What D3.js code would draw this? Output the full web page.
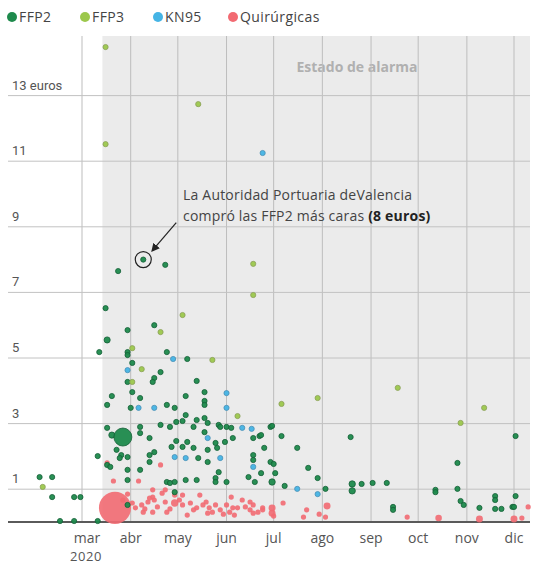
<!DOCTYPE html>
<html><head><meta charset="utf-8">
<script src="https://cdn.jsdelivr.net/npm/d3@7"></script>
<style>body{margin:0;background:#fff;} svg{display:block;font-family:"Open Sans",Roboto,sans-serif;}</style>
</head><body>
<script>
// ---- data: [fecha, precio (euros/unidad), unidades relativas] ----
const seriesNames = ["FFP2","FFP3","KN95","Quirúrgicas"];
const monthTicks = ["2020-03-01","2020-04-01","2020-05-01","2020-06-01","2020-07-01","2020-08-01","2020-09-01","2020-10-01","2020-11-01","2020-12-01"];
const monthLabels = ["mar","abr","may","jun","jul","ago","sep","oct","nov","dic"];
const yearLabel = "2020";
const yTicks = [1,3,5,7,9,11,13];
const alarmStart = "2020-03-14";
const highlight = ["2020-04-09", 8.0];

const ffp2 = [
["2020-02-03",1.37],["2020-02-11",1.37],["2020-02-11",0.76],["2020-02-25",0.76],["2020-02-29",0.76],
["2020-02-16",0.03],["2020-02-25",0.03],["2020-03-11",0.03],["2020-03-11",2.01],
["2020-04-09",8.0],["2020-03-24",7.65],["2020-04-23",7.84],["2020-03-16",6.52],["2020-03-30",5.85],
["2020-04-16",6.0],["2020-03-17",5.55,1.4],["2020-03-12",5.18],["2020-03-30",5.18],["2020-03-30",5.09],
["2020-04-24",5.18],["2020-05-07",4.97],["2020-04-02",4.85],["2020-04-20",4.57],["2020-04-16",4.39],
["2020-04-15",4.27],["2020-03-30",4.27],["2020-05-13",4.30],["2020-04-02",3.96],["2020-05-18",3.96],
["2020-03-20",3.84],["2020-04-07",3.78],["2020-05-06",3.84],["2020-05-18",3.69],["2020-05-18",3.57],
["2020-04-24",3.57],["2020-03-17",3.57],["2020-04-01",3.48],["2020-04-29",3.48],["2020-05-06",3.26],
["2020-03-17",2.87],["2020-03-20",2.65,1.4],["2020-03-27",2.59,12],["2020-04-07",2.90],["2020-04-07",2.71],
["2020-04-13",2.56],["2020-04-20",2.96],["2020-04-26",2.90],["2020-04-30",3.05],["2020-05-04",3.08],
["2020-05-13",3.11],["2020-05-18",3.17],["2020-05-20",3.02],["2020-05-18",2.74],["2020-05-27",2.96],
["2020-06-01",2.90],["2020-06-05",2.56],["2020-05-07",2.44],["2020-04-30",2.47],["2020-05-04",2.29],
["2020-04-27",2.29],["2020-05-11",2.26],["2020-05-25",2.41],["2020-05-26",2.26],["2020-05-31",2.44],
["2020-05-20",2.20],["2020-03-23",2.20],["2020-03-26",2.04],["2020-03-25",1.95],["2020-03-30",1.98],
["2020-04-13",2.04],["2020-04-16",2.13],["2020-05-14",1.95],["2020-05-20",1.83],["2020-04-13",1.83],
["2020-03-17",1.74],["2020-03-19",1.68],["2020-03-30",1.59],["2020-04-07",1.59],["2020-05-27",1.52],
["2020-04-24",1.22],["2020-04-26",1.19],["2020-04-29",1.22],["2020-05-06",1.28],["2020-05-13",1.28],
["2020-05-25",1.34],["2020-05-25",1.22],["2020-06-01",1.22],["2020-03-30",1.28],["2020-04-29",0.91],
["2020-03-30",0.52],["2020-06-29",2.90],["2020-06-30",2.93],["2020-06-18",2.56],["2020-06-22",2.62],
["2020-06-04",2.87],["2020-05-11",2.90],["2020-05-28",2.90],["2020-07-06",2.62],["2020-08-19",2.59],
["2020-07-16",2.26],["2020-06-25",2.26],["2020-06-23",2.65],["2020-06-18",2.04],["2020-06-18",1.89],
["2020-06-29",1.83],["2020-07-01",1.77],["2020-07-23",1.65],["2020-06-23",1.49],["2020-07-02",1.49],
["2020-06-15",1.37],["2020-06-19",1.22],["2020-06-30",1.22,1.5],["2020-07-29",1.34],["2020-07-08",1.10],
["2020-08-03",1.01],["2020-08-20",1.16,1.5],["2020-08-20",0.95,1.5],["2020-08-26",1.16],["2020-09-02",1.19],
["2020-09-11",1.19],["2020-09-15",0.46],["2020-09-15",0.37],["2020-10-12",0.98],["2020-10-12",0.91],
["2020-10-26",1.80],["2020-10-26",1.01],["2020-10-28",0.64],["2020-10-30",0.52],["2020-11-09",0.43],
["2020-11-19",0.79],["2020-11-19",0.67],["2020-11-19",0.40],["2020-11-23",0.40],["2020-11-30",0.46],
["2020-12-01",0.46],["2020-12-02",0.79],["2020-12-02",2.62]
];
const ffp3 = [
["2020-03-16",14.48],["2020-03-16",11.52],["2020-05-14",12.74],["2020-06-18",7.87],["2020-06-18",6.92],
["2020-05-04",6.31],["2020-04-20",5.79],["2020-04-02",5.30],["2020-05-23",4.94],["2020-04-08",4.66],
["2020-04-02",4.27],["2020-06-08",3.23],["2020-07-06",3.60],["2020-07-29",3.78],["2020-09-18",4.09],
["2020-11-12",3.48],["2020-10-28",3.02],["2020-02-05",1.07]
];
const kn95 = [
["2020-06-24",11.25],["2020-04-28",4.97],["2020-03-30",4.63],["2020-06-01",3.93],["2020-06-01",3.48],
["2020-06-11",2.87],["2020-06-17",2.84],["2020-05-20",2.56],["2020-04-29",1.98],["2020-05-06",1.95],
["2020-05-28",1.95],["2020-06-18",1.68],["2020-07-16",1.01],["2020-07-29",0.85],["2020-04-06",3.48],
["2020-04-16",3.48]
];
const quirurgicas = [
["2020-03-22",0.43,38],["2020-03-21",1.25],["2020-03-17",1.80],["2020-04-06",1.25],["2020-04-20",1.74],
["2020-04-15",0.98],["2020-04-21",0.88],["2020-04-15",0.76],["2020-04-16",0.67],["2020-04-12",0.61],
["2020-04-23",0.61],["2020-04-29",0.58,2],["2020-05-04",0.52],["2020-05-09",0.58],["2020-05-13",0.43],
["2020-05-17",0.52],["2020-05-21",0.43],["2020-05-25",0.52],["2020-05-28",0.37],["2020-06-01",0.52],
["2020-06-05",0.43],["2020-04-08",0.52],["2020-04-09",0.30],["2020-04-04",0.43],["2020-04-15",0.30],
["2020-04-24",0.30],["2020-05-07",0.21],["2020-05-20",0.27],["2020-04-29",0.82],["2020-05-04",0.82],
["2020-05-15",0.82],["2020-04-23",0.98],["2020-04-13",0.73],["2020-03-27",0.67],["2020-03-30",0.85],
["2020-06-04",0.76],["2020-06-11",0.67],["2020-06-16",0.61],["2020-06-18",0.52],["2020-06-16",0.37],
["2020-06-08",0.43],["2020-06-24",0.43],["2020-06-30",0.43,1.8],["2020-06-30",0.27,1.8],["2020-07-01",0.18],
["2020-07-07",0.58],["2020-07-22",0.37],["2020-07-20",0.15],["2020-08-04",0.49,1.8],["2020-07-30",0.24],
["2020-08-03",0.15],["2020-06-06",0.21],["2020-06-18",0.27],["2020-09-24",0.15],["2020-10-14",0.12,1.6],
["2020-11-09",0.09,1.8],["2020-12-01",0.09,1.8],["2020-12-06",0.12],["2020-12-10",0.46],["2020-06-24",0.37],
["2020-04-02",0.58],["2020-04-10",0.40],["2020-04-18",0.46],["2020-04-26",0.40],["2020-05-02",0.67],
["2020-05-11",0.37],["2020-05-19",0.61],["2020-05-23",0.30],["2020-05-30",0.24],["2020-06-03",0.30],
["2020-06-13",0.46],["2020-06-21",0.30]
];

// ---- chart ----
const W = 542, H = 565;
const plotLeft = 8, plotRight = 530, plotTop = 36, plotBase = 522;
const parse = d3.utcParse("%Y-%m-%d");
const x = d3.scaleUtc().domain([parse("2020-03-01"), parse("2020-12-01")]).range([82, 514]);
const y = d3.scaleLinear().domain([0, 13]).range([plotBase, 95.6]);
const r = d3.scaleSqrt().domain([0, 1]).range([0, 2.6]);

const colors = {"FFP2":"#1e8a4c","FFP3":"#9cc84c","KN95":"#45b4e5","Quirúrgicas":"#f26a72"};
const strokes = {"FFP2":"#155f37","FFP3":"#8c9f5a","KN95":"#4a8fb5","Quirúrgicas":"#f26a72"};

const svg = d3.select("body").append("svg").attr("width", W).attr("height", H);

// shading
svg.append("rect").attr("x", x(parse(alarmStart))).attr("y", plotTop)
  .attr("width", plotRight - x(parse(alarmStart))).attr("height", plotBase - plotTop).attr("fill", "#ebebeb");
svg.append("text").attr("x", 357).attr("y", 72).attr("text-anchor","middle")
  .attr("fill","#b0b0b0").attr("font-size",14).attr("font-weight",700).text("Estado de alarma");

// grid
svg.append("g").selectAll("line").data(monthTicks).join("line")
  .attr("x1", d => x(parse(d))).attr("x2", d => x(parse(d)))
  .attr("y1", plotTop).attr("y2", plotBase).attr("stroke", "#bdbdbd").attr("stroke-width", 1);
svg.append("g").selectAll("line").data(yTicks).join("line")
  .attr("x1", plotLeft).attr("x2", plotRight).attr("y1", d => y(d)).attr("y2", d => y(d))
  .attr("stroke", "#c2c2c2").attr("stroke-width", 1);
svg.append("g").selectAll("text").data(yTicks).join("text")
  .attr("x", 12).attr("y", d => y(d) - 6).attr("fill", "#555").attr("font-size", 13)
  .attr("font-family", "Roboto, sans-serif")
  .text(d => d === 13 ? "13 euros" : d);

// baseline
svg.append("line").attr("x1", plotLeft).attr("x2", plotRight).attr("y1", plotBase).attr("y2", plotBase)
  .attr("stroke", "#5a5a5a").attr("stroke-width", 2);

// month labels
svg.append("g").selectAll("text").data(monthTicks).join("text")
  .attr("x", (d,i) => x(parse(d)) + (i === 0 ? 5 : 0)).attr("y", 543).attr("text-anchor","middle")
  .attr("fill","#555").attr("font-size",14).text((d,i) => monthLabels[i]);
svg.append("text").attr("x", x(parse(monthTicks[0])) + 4).attr("y", 561).attr("text-anchor","middle")
  .attr("fill","#555").attr("font-size",13).attr("letter-spacing",0.6).text(yearLabel);

// points
const all = [["Quirúrgicas", quirurgicas], ["FFP2", ffp2], ["FFP3", ffp3], ["KN95", kn95]];
all.forEach(([name, arr]) => {
  svg.append("g").selectAll("circle").data(arr).join("circle")
    .attr("cx", d => x(parse(d[0]))).attr("cy", d => y(d[1]))
    .attr("r", d => r(d[2] || 1))
    .attr("fill", colors[name])
    .attr("fill-opacity", name === "Quirúrgicas" ? 0.9 : 0.95)
    .attr("stroke", strokes[name]).attr("stroke-width", name === "Quirúrgicas" ? 0 : 0.8);
});

// annotation
const hx = x(parse(highlight[0])), hy = y(highlight[1]);
svg.append("circle").attr("cx", hx).attr("cy", hy).attr("r", 8)
  .attr("fill","none").attr("stroke","#222").attr("stroke-width",1.2);
svg.append("defs").append("marker").attr("id","ah").attr("viewBox","0 0 10 10")
  .attr("refX",8).attr("refY",5).attr("markerWidth",7).attr("markerHeight",7).attr("orient","auto")
  .append("path").attr("d","M0,0L10,5L0,10z").attr("fill","#222");
svg.append("line").attr("x1", hx + 33).attr("y1", hy - 37).attr("x2", hx + 9).attr("y2", hy - 9)
  .attr("stroke","#222").attr("stroke-width",1.2).attr("marker-end","url(#ah)");
const ann = svg.append("text").attr("fill","#444").attr("font-size",14).attr("letter-spacing",0.2);
ann.append("tspan").attr("x",183).attr("y",200).text("La Autoridad Portuaria deValencia");
ann.append("tspan").attr("x",183).attr("y",221).text("compró las FFP2 más caras ");
ann.append("tspan").attr("font-weight",700).attr("fill","#222").text("(8 euros)");

// legend
const lg = svg.append("g");
const lx = [12, 85, 158, 233];
seriesNames.forEach((n,i) => {
  lg.append("circle").attr("cx", lx[i]).attr("cy", 17).attr("r", 5).attr("fill", colors[n]);
  lg.append("text").attr("x", lx[i] + 7).attr("y", 22).attr("fill","#444").attr("font-size",14)
    .attr("letter-spacing",0.4).text(n);
});
</script>
</body></html>
